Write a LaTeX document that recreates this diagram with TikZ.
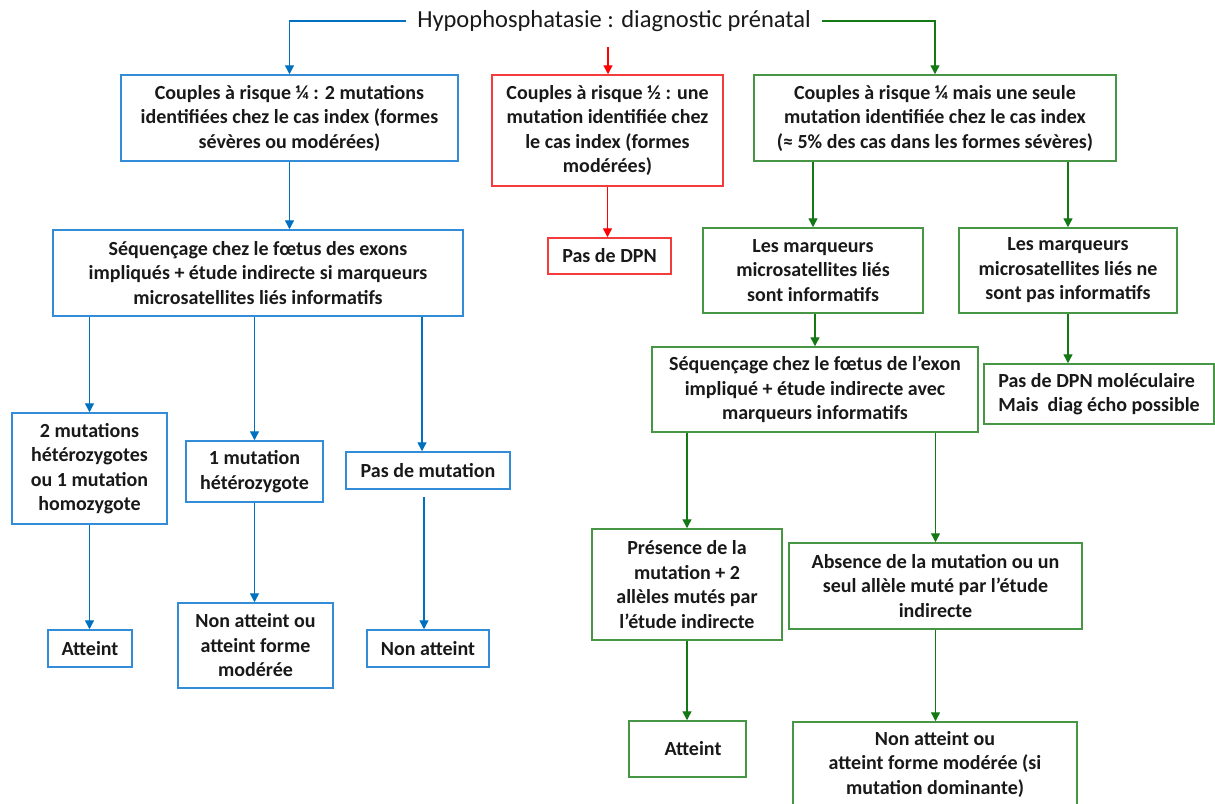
\documentclass[tikz,border=0pt]{standalone}
\usepackage{fontspec}
\setmainfont{Carlito}
\usetikzlibrary{arrows.meta}
\definecolor{bluebox}{RGB}{50,140,215}
\definecolor{bluearr}{RGB}{0,112,192}
\definecolor{redbox}{RGB}{245,60,60}
\definecolor{redarr}{RGB}{255,0,0}
\definecolor{greenbox}{RGB}{70,150,70}
\definecolor{greenarr}{RGB}{20,120,20}
\definecolor{txt}{RGB}{25,25,25}
\begin{document}
\begin{tikzpicture}[x=1pt,y=-1pt,
 box/.style={draw, line width=1.5pt, fill=white, text=txt, align=center, inner sep=0pt,
   font=\bfseries\fontsize{20}{24.5}\selectfont},
 bbox/.style={box, draw=bluebox},
 rbox/.style={box, draw=redbox},
 gbox/.style={box, draw=greenbox},
 arr/.style={line width=1.4pt, -{Triangle[length=9pt,width=9pt]}},
 barr/.style={arr, color=bluearr},
 rarr/.style={arr, color=redarr},
 garr/.style={arr, color=greenarr}]
\useasboundingbox (0,0) rectangle (1215,803);
\clip (0,0) rectangle (1215,803);
\fill[white] (0,0) rectangle (1215,803);

\node[font=\fontsize{24.5}{28}\selectfont, text=txt, inner xsep=11pt, inner ysep=2pt] (title) at (614,21) {Hypophosphatasie : diagnostic prénatal};

\node[bbox, minimum width=337, minimum height=86] (b1) at (289.5,118) {Couples à risque ¼ : 2 mutations\\identifiées chez le cas index (formes\\sévères ou modérées)};
\node[rbox, minimum width=231, minimum height=111] (r1) at (607.5,130.5) {Couples à risque ½ : une\\mutation identifiée chez\\le cas index (formes\\modérées)};
\node[gbox, minimum width=362, minimum height=86] (g1) at (935,118) {Couples à risque ¼ mais une seule\\mutation identifiée chez le cas index\\(≈ 5\% des cas dans les formes sévères)};

\node[bbox, minimum width=410, minimum height=86] (b2) at (258,273) {Séquençage chez le fœtus des exons\\impliqués + étude indirecte si marqueurs\\microsatellites liés informatifs};
\node[rbox, minimum width=123, minimum height=36] (r2) at (609.5,256) {Pas de DPN};
\node[gbox, minimum width=220, minimum height=85] (g2) at (813,270.5) {Les marqueurs\\microsatellites liés\\sont informatifs};
\node[gbox, minimum width=218, minimum height=85] (g3) at (1068,270.5) {Les marqueurs\\microsatellites liés ne\\sont pas informatifs};
\node[gbox, minimum width=326, minimum height=85] (g4) at (815,389.5) {Séquençage chez le fœtus de l’exon\\impliqué + étude indirecte avec\\marqueurs informatifs};
\node[gbox, align=left, minimum width=230, minimum height=60] (g5) at (1099,394) {Pas de DPN moléculaire\\Mais~~diag écho possible};

\node[bbox, minimum width=155, minimum height=111] (b3) at (89.5,468.5) {2 mutations\\hétérozygotes\\ou 1 mutation\\homozygote};
\node[bbox, minimum width=137, minimum height=61] (b4) at (254.5,471.5) {1 mutation\\hétérozygote};
\node[bbox, minimum width=164, minimum height=37] (b5) at (428,470.5) {Pas de mutation};
\node[bbox, minimum width=84, minimum height=37] (b6) at (90,648.5) {Atteint};
\node[bbox, minimum width=155, minimum height=85] (b7) at (255.5,645.5) {Non atteint ou\\atteint forme\\modérée};
\node[bbox, minimum width=122, minimum height=37] (b8) at (428,648.5) {Non atteint};

\node[gbox, minimum width=190, minimum height=111] (g6) at (687,584.5) {Présence de la\\mutation + 2\\allèles mutés par\\l’étude indirecte};
\node[gbox, minimum width=293, minimum height=86] (g7) at (935.5,586) {Absence de la mutation ou un\\seul allèle muté par l’étude\\indirecte};
\node[gbox, minimum width=117, minimum height=56] (g8) at (687.5,749) {\hspace*{11pt}Atteint};
\node[gbox, minimum width=284, minimum height=84] (g9) at (935,764) {Non atteint ou\\atteint forme modérée (si\\mutation dominante)};

% connectors
\draw[barr] (title.west) -| (b1.north);
\draw[garr] (title.east) -| (g1.north);
\coordinate (rs) at (608,47);
\draw[rarr] (rs) -- (rs |- r1.north);

\draw[barr] (b1.south) -- (b1.south |- b2.north);
\draw[rarr] (r1.south) -- (r1.south |- r2.north);
\draw[garr] (g1.south -| g2.north) -- (g2.north);
\draw[garr] (g1.south -| g3.north) -- (g3.north);
\draw[garr] (g2.south -| g4.north) -- (g4.north);
\draw[garr] (g3.south) -- (g3.south |- g5.north);

\coordinate (b5in) at ([xshift=-6pt]b5.north);
\coordinate (b8in) at ([xshift=-4pt]b8.north);
\coordinate (b5out) at ([yshift=-7pt]b5.south);
\draw[barr] (b2.south -| b3.north) -- (b3.north);
\draw[barr] (b2.south -| b4.north) -- (b4.north);
\draw[barr] (b2.south -| b5in) -- (b5in);
\draw[barr] (b3.south) -- (b3.south |- b6.north);
\draw[barr] (b4.south) -- (b4.south |- b7.north);
\draw[barr] (b5out -| b8in) -- (b8in);

\draw[garr] (g4.south -| g6.north) -- (g6.north);
\draw[garr] (g4.south -| g7.north) -- (g7.north);
\draw[garr] (g6.south) -- (g6.south |- g8.north);
\draw[garr] (g7.south) -- (g7.south |- g9.north);
\end{tikzpicture}
\end{document}
